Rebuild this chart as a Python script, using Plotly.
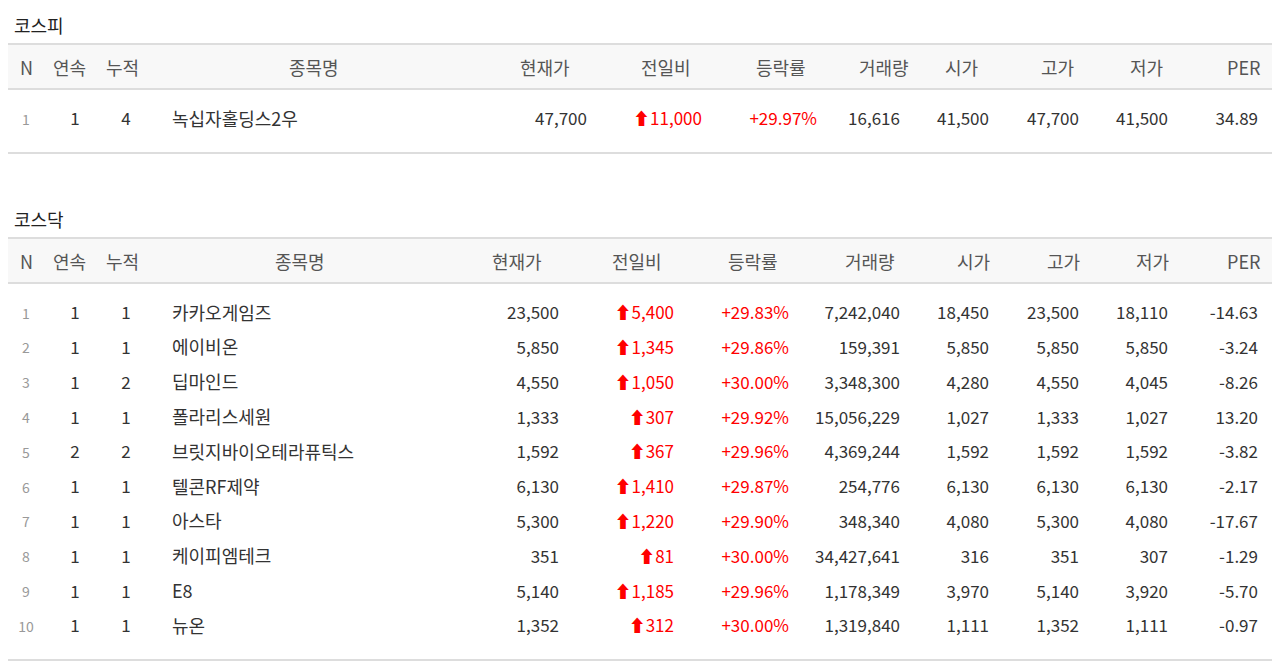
import plotly.graph_objects as go

columns = ["N", "연속", "누적", "종목명", "현재가", "전일비", "등락률", "거래량", "시가", "고가", "저가", "PER"]

# 코스피
kospi_n = [1]
kospi_streak = [1]
kospi_total = [4]
kospi_name = ["녹십자홀딩스2우"]
kospi_price = ["47,700"]
kospi_change = ["11,000"]
kospi_rate = ["+29.97%"]
kospi_volume = ["16,616"]
kospi_open = ["41,500"]
kospi_high = ["47,700"]
kospi_low = ["41,500"]
kospi_per = ["34.89"]

# 코스닥
kosdaq_n = [1, 2, 3, 4, 5, 6, 7, 8, 9, 10]
kosdaq_streak = [1, 1, 1, 1, 2, 1, 1, 1, 1, 1]
kosdaq_total = [1, 1, 2, 1, 2, 1, 1, 1, 1, 1]
kosdaq_name = ["카카오게임즈", "에이비온", "딥마인드", "폴라리스세원", "브릿지바이오테라퓨틱스",
               "텔콘RF제약", "아스타", "케이피엠테크", "E8", "뉴온"]
kosdaq_price = ["23,500", "5,850", "4,550", "1,333", "1,592", "6,130", "5,300", "351", "5,140", "1,352"]
kosdaq_change = ["5,400", "1,345", "1,050", "307", "367", "1,410", "1,220", "81", "1,185", "312"]
kosdaq_rate = ["+29.83%", "+29.86%", "+30.00%", "+29.92%", "+29.96%", "+29.87%", "+29.90%", "+30.00%", "+29.96%", "+30.00%"]
kosdaq_volume = ["7,242,040", "159,391", "3,348,300", "15,056,229", "4,369,244", "254,776", "348,340", "34,427,641", "1,178,349", "1,319,840"]
kosdaq_open = ["18,450", "5,850", "4,280", "1,027", "1,592", "6,130", "4,080", "316", "3,970", "1,111"]
kosdaq_high = ["23,500", "5,850", "4,550", "1,333", "1,592", "6,130", "5,300", "351", "5,140", "1,352"]
kosdaq_low = ["18,110", "5,850", "4,045", "1,027", "1,592", "6,130", "4,080", "307", "3,920", "1,111"]
kosdaq_per = ["-14.63", "-3.24", "-8.26", "13.20", "-3.82", "-2.17", "-17.67", "-1.29", "-5.70", "-0.97"]

FONT = "Noto Sans CJK KR, Malgun Gothic, sans-serif"
TXT = "#333333"
RED = "#ff0000"
LINE = "#dddddd"

fig = go.Figure()


def add_col(x, ys, texts, align, color=TXT, size=17):
    pos = {"right": "middle left", "left": "middle right", "center": "middle center"}[align]
    fig.add_trace(go.Scatter(
        x=[x] * len(ys), y=ys, text=[str(t) for t in texts], mode="text",
        textposition=pos, textfont=dict(family=FONT, size=size, color=color),
        hoverinfo="skip", showlegend=False, cliponaxis=False))


def add_table(title, top, row_y0, row_step, bottom, head_x, col_x, data):
    fig.add_annotation(x=12, y=top - 19, text=title, showarrow=False, xanchor="left",
                       font=dict(family=FONT, size=18, color="#222222"), xref="x", yref="y")
    fig.add_shape(type="rect", x0=6, x1=1290, y0=top, y1=top + 45, fillcolor="#f8f8f8",
                  line_width=0, layer="below", xref="x", yref="y")
    for yy in (top, top + 45, bottom):
        fig.add_shape(type="line", x0=6, x1=1290, y0=yy, y1=yy,
                      line=dict(color=LINE, width=2), xref="x", yref="y")
    for name, hx in zip(columns, head_x):
        fig.add_annotation(x=hx, y=top + 23, text=name, showarrow=False,
                           font=dict(family=FONT, size=18, color="#555555"), xref="x", yref="y")
    n = len(data[0])
    ys = [row_y0 + i * row_step for i in range(n)]
    (nn, streak, total, names, price, change, rate, vol, op, hi, lo, per) = data
    add_col(col_x[0], ys, nn, "center", "#999999", 14)
    add_col(col_x[1], ys, streak, "center")
    add_col(col_x[2], ys, total, "center")
    add_col(col_x[3], ys, names, "left", "#333333", 18)
    add_col(col_x[4], ys, price, "right")
    add_col(col_x[5], ys, ["<b>⬆</b>" + c for c in change], "right", RED)
    add_col(col_x[6], ys, rate, "right", RED)
    for cx, vals in zip(col_x[7:], (vol, op, hi, lo, per)):
        add_col(cx, ys, vals, "right")


add_table("코스피", 44, 121, 0, 153,
          [26, 69, 122, 314, 545, 666, 781, 884, 961, 1057, 1146, 1243],
          [26, 75, 126, 172, 587, 702, 817, 900, 989, 1079, 1168, 1258],
          [kospi_n, kospi_streak, kospi_total, kospi_name, kospi_price, kospi_change, kospi_rate,
           kospi_volume, kospi_open, kospi_high, kospi_low, kospi_per])

add_table("코스닥", 238, 315, 34.8, 660,
          [26, 69, 122, 300, 517, 637, 753, 870, 973, 1063, 1152, 1243],
          [26, 75, 126, 172, 559, 674, 789, 900, 989, 1079, 1168, 1258],
          [kosdaq_n, kosdaq_streak, kosdaq_total, kosdaq_name, kosdaq_price, kosdaq_change, kosdaq_rate,
           kosdaq_volume, kosdaq_open, kosdaq_high, kosdaq_low, kosdaq_per])

# offset ranges to cancel the page's 8px body margin
fig.update_xaxes(range=[8, 1288], visible=False, fixedrange=True)
fig.update_yaxes(range=[675, 8], visible=False, fixedrange=True)
fig.update_layout(width=1280, height=667, margin=dict(l=0, r=0, t=0, b=0),
                  plot_bgcolor="white", paper_bgcolor="white")

fig.write_html("out.html")
